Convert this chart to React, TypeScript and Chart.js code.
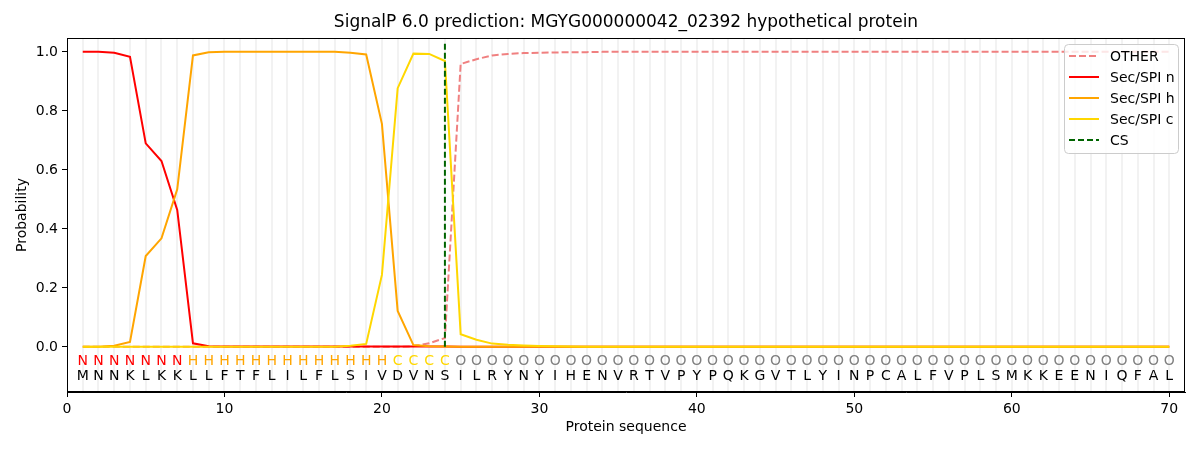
import { useRef, useEffect } from "react";
import Chart from "chart.js/auto";

const sequence = "MNNKLKKLLFTFLILFLSIVDVNSILRYNYIHENVRTVPYPQKGVTLYINPCALFVPLSMKKEENIQFAL";
const regions = "NNNNNNNHHHHHHHHHHHHHCCCCOOOOOOOOOOOOOOOOOOOOOOOOOOOOOOOOOOOOOOOOOOOOOO";

const otherProb = [
  0, 0, 0, 0, 0, 0, 0, 0, 0, 0,
  0, 0, 0, 0, 0, 0, 0, 0, 0, 0,
  0, 0.002, 0.012, 0.03, 0.959, 0.975, 0.988, 0.993, 0.996, 0.997,
  0.998, 0.999, 0.999, 1, 1, 1, 1, 1, 1, 1,
  1, 1, 1, 1, 1, 1, 1, 1, 1, 1,
  1, 1, 1, 1, 1, 1, 1, 1, 1, 1,
  1, 1, 1, 1, 1, 1, 1, 1, 1, 1,
];
const secN = [
  1, 1, 0.997, 0.983, 0.69, 0.63, 0.464, 0.012, 0.002, 0.001,
  0.001, 0.001, 0.001, 0.001, 0.001, 0.001, 0.001, 0.001, 0.001, 0.001,
  0.001, 0.001, 0.001, 0.001, 0, 0, 0, 0, 0, 0,
  0, 0, 0, 0, 0, 0, 0, 0, 0, 0,
  0, 0, 0, 0, 0, 0, 0, 0, 0, 0,
  0, 0, 0, 0, 0, 0, 0, 0, 0, 0,
  0, 0, 0, 0, 0, 0, 0, 0, 0, 0,
];
const secH = [
  0, 0, 0.004, 0.017, 0.308, 0.368, 0.534, 0.988, 0.999, 1,
  1, 1, 1, 1, 1, 1, 1, 0.997, 0.991, 0.756,
  0.122, 0.006, 0.002, 0.001, 0, 0, 0, 0, 0, 0,
  0, 0, 0, 0, 0, 0, 0, 0, 0, 0,
  0, 0, 0, 0, 0, 0, 0, 0, 0, 0,
  0, 0, 0, 0, 0, 0, 0, 0, 0, 0,
  0, 0, 0, 0, 0, 0, 0, 0, 0, 0,
];
const secC = [
  0, 0, 0, 0, 0, 0, 0, 0, 0, 0,
  0, 0, 0, 0, 0, 0, 0, 0.004, 0.01, 0.244,
  0.877, 0.994, 0.993, 0.969, 0.043, 0.024, 0.011, 0.007, 0.005, 0.003,
  0.002, 0.001, 0, 0, 0, 0, 0, 0, 0, 0,
  0, 0, 0, 0, 0, 0, 0, 0, 0, 0,
  0, 0, 0, 0, 0, 0, 0, 0, 0, 0,
  0, 0, 0, 0, 0, 0, 0, 0, 0, 0,
];
const csPos = 24;
const csSpan = [0, 1.035];

const xTicks = [0, 10, 20, 30, 40, 50, 60, 70];
const yTicks = [0, 0.2, 0.4, 0.6, 0.8, 1.0];

const regionColors: Record<string, string> = {
  N: "#ff0000",
  H: "#ffa500",
  C: "#ffd700",
  O: "#808080",
};

const FONT = "'DejaVu Sans', sans-serif";

const toPoints = (vals: number[]) => vals.map((v, i) => ({ x: i + 1, y: v }));

const decorPlugin = {
  id: "decor",
  beforeDatasetsDraw(chart: any) {
    const { ctx, chartArea, scales } = chart;
    ctx.save();
    ctx.strokeStyle = "rgba(0,0,0,0.05)";
    ctx.lineWidth = 2;
    for (let i = 0; i < sequence.length; i++) {
      const px = Math.round(scales.x.getPixelForValue(i + 1));
      ctx.beginPath();
      ctx.moveTo(px, chartArea.top);
      ctx.lineTo(px, chartArea.bottom);
      ctx.stroke();
    }
    ctx.restore();
  },
  afterDraw(chart: any) {
    const { ctx, chartArea, scales } = chart;
    ctx.save();
    // frame
    ctx.strokeStyle = "#000";
    ctx.lineWidth = 1;
    ctx.strokeRect(
      Math.round(chartArea.left) + 0.5,
      Math.round(chartArea.top) + 0.5,
      Math.round(chartArea.right - chartArea.left) - 1,
      Math.round(chartArea.bottom - chartArea.top) - 1
    );

    // residue letters
    ctx.font = `14px ${FONT}`;
    ctx.textAlign = "center";
    ctx.textBaseline = "middle";
    for (let i = 0; i < sequence.length; i++) {
      const px = scales.x.getPixelForValue(i + 1);
      ctx.fillStyle = regionColors[regions[i]];
      ctx.fillText(regions[i], px, scales.y.getPixelForValue(-0.048));
      ctx.fillStyle = "#000";
      ctx.fillText(sequence[i], px, scales.y.getPixelForValue(-0.1));
    }

    // title and axis labels
    const midX = (chartArea.left + chartArea.right) / 2;
    ctx.fillStyle = "#000";
    ctx.font = `17px ${FONT}`;
    ctx.fillText("SignalP 6.0 prediction: MGYG000000042_02392 hypothetical protein", midX, 23);
    ctx.font = `14px ${FONT}`;
    ctx.fillText("Protein sequence", midX, 427);
    ctx.save();
    ctx.translate(22, (chartArea.top + chartArea.bottom) / 2);
    ctx.rotate(-Math.PI / 2);
    ctx.fillText("Probability", 0, 0);
    ctx.restore();

    // legend
    const bw = 114;
    const bh = 109;
    const bx = chartArea.right - 7 - bw;
    const by = chartArea.top + 6;
    ctx.fillStyle = "rgba(255,255,255,0.8)";
    ctx.strokeStyle = "#cccccc";
    ctx.lineWidth = 1;
    ctx.beginPath();
    ctx.roundRect(bx + 0.5, by + 0.5, bw, bh, 4);
    ctx.fill();
    ctx.stroke();
    chart.data.datasets.forEach((ds: any, i: number) => {
      const yy = by + 12 + i * 21;
      ctx.strokeStyle = ds.borderColor;
      ctx.lineWidth = 2;
      ctx.setLineDash(ds.borderDash || []);
      ctx.beginPath();
      ctx.moveTo(bx + 5, yy);
      ctx.lineTo(bx + 35, yy);
      ctx.stroke();
      ctx.setLineDash([]);
      ctx.fillStyle = "#000";
      ctx.textAlign = "left";
      ctx.fillText(ds.label, bx + 46, yy + 1);
    });
    ctx.restore();
  },
};

const App = () => {
  const chartRef = useRef<HTMLCanvasElement | null>(null);
  const chartInstance = useRef<Chart | null>(null);

  useEffect(() => {
    document.body.style.margin = "0";
    if (chartInstance.current) {
      chartInstance.current.destroy();
    }
    const ctx = chartRef.current?.getContext("2d");
    if (!ctx) return;

    chartInstance.current = new Chart(ctx, {
      type: "line",
      data: {
        datasets: [
          {
            label: "OTHER",
            data: toPoints(otherProb),
            borderColor: "#f08080",
            borderDash: [7, 3],
            order: 4,
          },
          {
            label: "Sec/SPI n",
            data: toPoints(secN),
            borderColor: "#ff0000",
            order: 3,
          },
          {
            label: "Sec/SPI h",
            data: toPoints(secH),
            borderColor: "#ffa500",
            order: 2,
          },
          {
            label: "Sec/SPI c",
            data: toPoints(secC),
            borderColor: "#ffd700",
            order: 1,
          },
          {
            label: "CS",
            data: csSpan.map((v) => ({ x: csPos, y: v })),
            borderColor: "#006400",
            borderDash: [6, 3],
            order: 0,
          },
        ] as any,
      },
      options: {
        animation: false,
        responsive: true,
        maintainAspectRatio: false,
        elements: {
          point: { radius: 0, hoverRadius: 0 },
          line: { borderWidth: 2, tension: 0 },
        },
        layout: { padding: { left: 0, right: 15, top: 38, bottom: 0 } },
        plugins: {
          legend: { display: false },
          title: { display: false },
          tooltip: { enabled: false },
        },
        scales: {
          x: {
            type: "linear",
            min: 0,
            max: 71,
            afterBuildTicks: (scale: any) => {
              scale.ticks = xTicks.map((v) => ({ value: v }));
            },
            afterFit: (scale: any) => {
              scale.height = 58;
            },
            grid: {
              drawOnChartArea: false,
              drawTicks: true,
              tickLength: 5,
              color: "#000",
            },
            border: { display: true, color: "#000", width: 1 },
            ticks: {
              color: "#000",
              font: { family: FONT, size: 14 },
              padding: 4,
              maxRotation: 0,
              callback: (v: any) => String(v),
            },
          },
          y: {
            type: "linear",
            min: -0.153,
            max: 1.047,
            afterBuildTicks: (scale: any) => {
              scale.ticks = yTicks.map((v) => ({ value: v }));
            },
            afterFit: (scale: any) => {
              scale.width = 67;
            },
            grid: {
              drawOnChartArea: false,
              drawTicks: true,
              tickLength: 5,
              color: "#000",
            },
            border: { display: true, color: "#000", width: 1 },
            ticks: {
              color: "#000",
              font: { family: FONT, size: 14 },
              padding: 4,
              callback: (v: any) => Number(v).toFixed(1),
            },
          },
        },
      },
      plugins: [decorPlugin],
    });

    return () => {
      if (chartInstance.current) {
        chartInstance.current.destroy();
        chartInstance.current = null;
      }
    };
  }, []);

  return (
    <div style={{ width: 1200, height: 450, position: "relative" }}>
      <canvas ref={chartRef}></canvas>
    </div>
  );
};

export default App;
